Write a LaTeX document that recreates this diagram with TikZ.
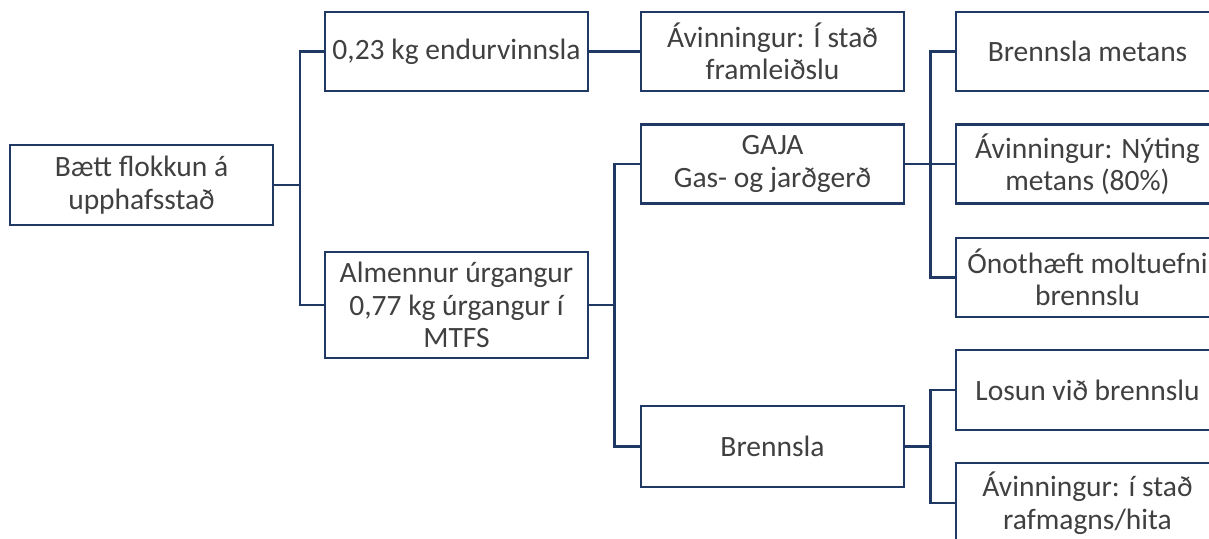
\documentclass[tikz,border=0pt]{standalone}
\usepackage{fontspec}
\setmainfont{Carlito}
\definecolor{navy}{HTML}{1F3864}
\definecolor{txt}{HTML}{404040}
\tikzset{
  box/.style={draw=navy, line width=2.6pt, fill=white, rectangle, minimum width=263pt,
    inner sep=0pt, align=center, text=txt, font=\fontsize{29.5}{32.5}\selectfont},
  conn/.style={draw=navy, line width=2.6pt}
}
\begin{document}
\begin{tikzpicture}[x=1pt,y=-1pt]
\clip (0,0) rectangle (1209,538);
\fill[white] (0,0) rectangle (1209,538);
\coordinate (v1) at (300,0);
\coordinate (v2) at (614.5,0);
\coordinate (v3) at (930.5,0);
% nodes
\node[box, minimum height=80pt] (A) at (141.5,185) {Bætt flokkun á\\upphafsstað};
\node[box, minimum height=79pt] (B) at (456.5,51.5) {0,23 kg endurvinnsla};
\node[box, minimum height=106pt] (C) at (456.5,305) {Almennur úrgangur\\0,77 kg úrgangur í\\MTFS};
\node[box, minimum height=79pt] (D) at (772.5,51.5) {Ávinningur: Í stað\\framleiðslu};
\node[box, minimum height=79pt] (E) at (772.5,164) {GAJA\\Gas- og jarðgerð};
\node[box, minimum height=81pt] (I) at (772.5,446.5) {Brennsla};
\node[box, minimum height=79pt] (F) at (1087.5,51.5) {Brennsla metans};
\node[box, minimum height=79pt] (G) at (1087.5,164) {Ávinningur: Nýting\\metans (80\%)};
\node[box, minimum height=79pt] (H) at (1087.5,277.5) {Ónothæft moltuefni\\brennslu};
\node[box, minimum height=80pt] (J) at (1087.5,390) {Losun við brennslu};
\node[box, minimum height=80pt] (K) at (1087.5,503) {Ávinningur: í stað\\rafmagns/hita};
% connectors
\draw[conn] (A.east) -- (A.east -| v1);
\draw[conn] (B.west) -- (B.west -| v1) -- (C.west -| v1) -- (C.west);
\draw[conn] (B.east) -- (D.west);
\draw[conn] (C.east) -- (C.east -| v2);
\draw[conn] (E.west) -- (E.west -| v2) -- (I.west -| v2) -- (I.west);
\draw[conn] (E.east) -- (G.west);
\draw[conn] (F.west) -- (F.west -| v3) -- (H.west -| v3) -- (H.west);
\draw[conn] (I.east) -- (I.east -| v3);
\draw[conn] (J.west) -- (J.west -| v3) -- (K.west -| v3) -- (K.west);
\end{tikzpicture}
\end{document}
